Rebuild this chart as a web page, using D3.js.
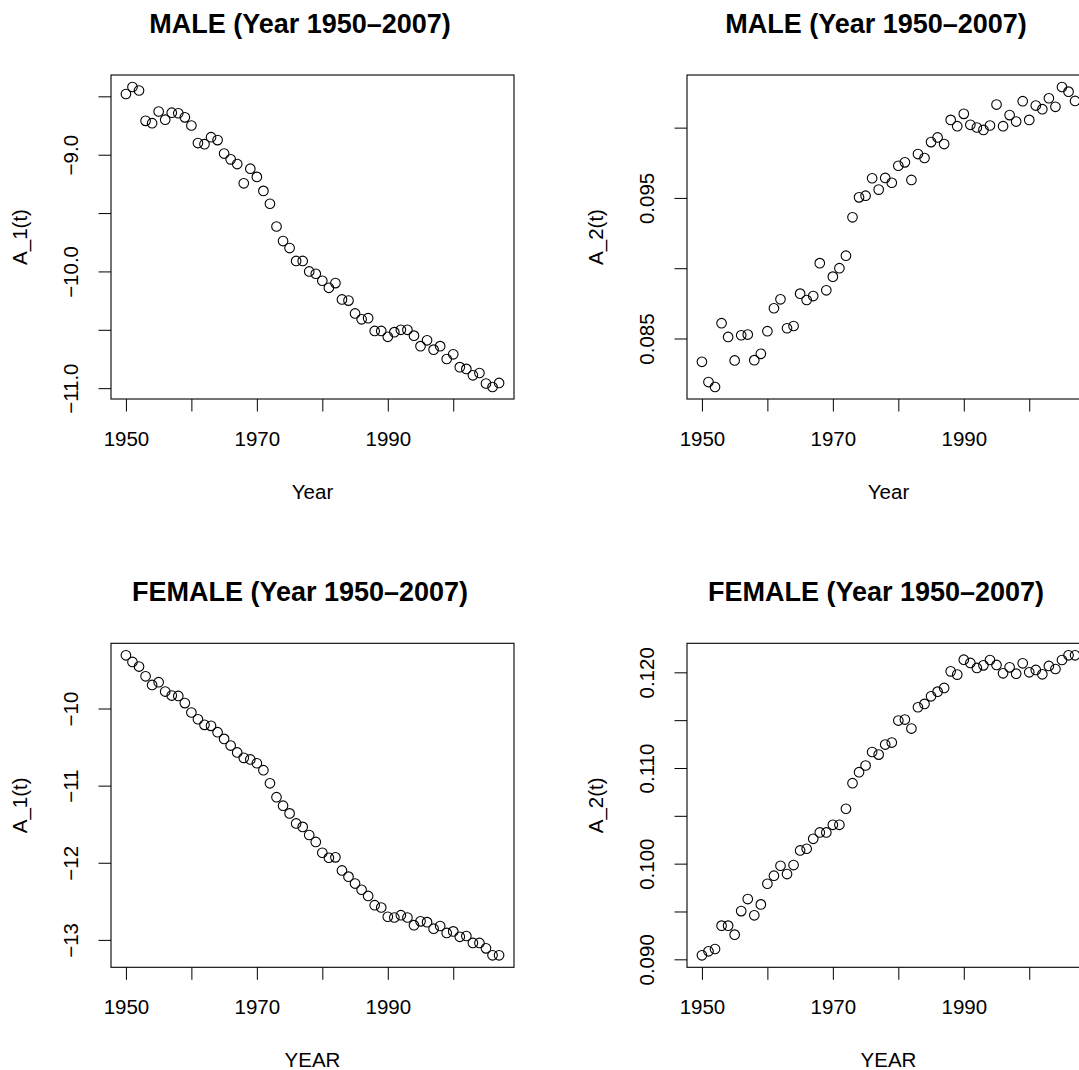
<!DOCTYPE html>
<html>
<head>
<meta charset="utf-8">
<script src="https://cdn.jsdelivr.net/npm/d3@7"></script>
<style>
  html, body { margin: 0; padding: 0; overflow: hidden; background: #fff; }
  svg { display: block; font-family: "Liberation Sans", Arial, Helvetica, sans-serif; }
</style>
</head>
<body>
<svg id="canvas" width="1152" height="1137"></svg>
<script>
// years 1950..2007
const years = d3.range(1950, 2008);

const maleA1 = [-8.48, -8.42, -8.45, -8.71, -8.73, -8.63, -8.70, -8.64, -8.645, -8.68,
  -8.75, -8.90, -8.91, -8.85, -8.875, -8.99, -9.04, -9.08, -9.245, -9.12,
  -9.19, -9.31, -9.42, -9.615, -9.74, -9.80, -9.91, -9.91, -10.00, -10.02,
  -10.08, -10.14, -10.10, -10.24, -10.25, -10.36, -10.41, -10.40, -10.51, -10.51,
  -10.56, -10.52, -10.50, -10.50, -10.55, -10.64, -10.59, -10.67, -10.64, -10.75,
  -10.71, -10.82, -10.835, -10.89, -10.87, -10.96, -10.99, -10.955];

const maleA2 = [0.08334, 0.0819, 0.08155, 0.08609, 0.08511, 0.08344, 0.08523, 0.08528, 0.08346, 0.08391,
  0.08552, 0.08715, 0.08779, 0.08573, 0.08589, 0.08819, 0.08774, 0.08802, 0.09036, 0.08843,
  0.0894, 0.0900, 0.09089, 0.09362, 0.09504, 0.09516, 0.0964, 0.09559, 0.09642, 0.09608,
  0.09729, 0.09753, 0.09628, 0.09812, 0.09784, 0.09897, 0.0993, 0.09883, 0.10055, 0.1001,
  0.10098, 0.1002, 0.10001, 0.09984, 0.10015, 0.10164, 0.1001, 0.10089, 0.10043, 0.10188,
  0.10055, 0.10157, 0.10131, 0.10209, 0.10148, 0.10289, 0.10256, 0.1019];

const femaleA1 = [-9.31, -9.396, -9.456, -9.582, -9.694, -9.659, -9.78, -9.832, -9.837, -9.93,
  -10.052, -10.139, -10.212, -10.225, -10.307, -10.394, -10.48, -10.57, -10.64, -10.66,
  -10.71, -10.80, -10.97, -11.15, -11.26, -11.36, -11.49, -11.535, -11.64, -11.73,
  -11.87, -11.935, -11.93, -12.10, -12.18, -12.27, -12.35, -12.43, -12.55, -12.58,
  -12.70, -12.71, -12.68, -12.71, -12.81, -12.76, -12.77, -12.855, -12.82, -12.91,
  -12.89, -12.96, -12.95, -13.04, -13.04, -13.11, -13.20, -13.20];

const femaleA2 = [0.09042, 0.09084, 0.09108, 0.09352, 0.09352, 0.09258, 0.09504, 0.0963, 0.0946, 0.09574,
  0.0979, 0.09874, 0.09978, 0.09891, 0.09985, 0.10138, 0.10156, 0.1026, 0.10326, 0.10326,
  0.10406, 0.10406, 0.10574, 0.10841, 0.10956, 0.11026, 0.11167, 0.1114, 0.11245, 0.11266,
  0.11496, 0.11506, 0.11412, 0.11635, 0.1167, 0.11749, 0.11798, 0.11837, 0.1201, 0.11976,
  0.12132, 0.12098, 0.12046, 0.12073, 0.12129, 0.12077, 0.1199, 0.12052, 0.11986, 0.12094,
  0.12, 0.12025, 0.11979, 0.12067, 0.12035, 0.12129, 0.12178, 0.12178];

// ticks and which of them carry a label
const yearTicks = [1950, 1960, 1970, 1980, 1990, 2000];
const yearLabels = [1950, 1970, 1990];
const maleA1Ticks = [-8.5, -9, -9.5, -10, -10.5, -11];
const maleA1Labels = [-9, -10, -11];
const maleA2Ticks = [0.085, 0.090, 0.095, 0.100];
const maleA2Labels = [0.085, 0.095];
const femaleA1Ticks = [-10, -11, -12, -13];
const femaleA1Labels = [-10, -11, -12, -13];
const femaleA2Ticks = [0.090, 0.095, 0.100, 0.105, 0.110, 0.115, 0.120];
const femaleA2Labels = [0.090, 0.100, 0.110, 0.120];

const canvas = d3.select('#canvas');

const cellW = 576, cellH = 568.3;
const box = {left: 111, right: 514, top: 75, bottom: 399};
const tickLen = 12.5;

// R style 4% padding of the data range
const padded = (ext) => {
    let d = (ext[1] - ext[0]) * 0.04;
    return [ext[0] - d, ext[1] + d];
}

const minus = (s) => s.replace('-', '\u2212');

let drawPanel = (col, row, opts) => {
    let g = canvas.append('g')
        .attr('transform', 'translate(' + (col * cellW) + ',' + (row * cellH) + ')');

    let x = d3.scaleLinear()
        .domain(padded(d3.extent(years)))
        .range([box.left, box.right]);
    let y = d3.scaleLinear()
        .domain(padded(d3.extent(opts.values)))
        .range([box.bottom, box.top]);

    // x axis
    let xAxis = g.append('g')
        .attr('transform', 'translate(0,' + box.bottom + ')')
        .call(d3.axisBottom(x)
            .tickValues(yearTicks)
            .tickSize(tickLen)
            .tickFormat((v) => yearLabels.includes(v) ? String(v) : ''));
    xAxis.select('.domain').remove();
    xAxis.selectAll('line').attr('stroke', '#000').attr('stroke-width', 1);
    xAxis.selectAll('text')
        .attr('y', 46.6)
        .attr('dy', 0)
        .attr('fill', '#000')
        .style('font-size', '20.5px');

    // y axis, labels parallel to axis
    let yAxis = g.append('g')
        .attr('transform', 'translate(' + box.left + ',0)')
        .call(d3.axisLeft(y)
            .tickValues(opts.ticks)
            .tickSize(tickLen)
            .tickFormat((v) => opts.labels.some((l) => Math.abs(l - v) < 1e-9) ? minus(opts.fmt(v)) : ''));
    yAxis.select('.domain').remove();
    yAxis.selectAll('line').attr('stroke', '#000').attr('stroke-width', 1);
    yAxis.selectAll('text')
        .attr('x', 0)
        .attr('y', -33)
        .attr('dy', 0)
        .attr('text-anchor', 'middle')
        .attr('transform', 'rotate(-90)')
        .attr('fill', '#000')
        .style('font-size', '20.5px');

    // plot box
    g.append('rect')
        .attr('x', box.left)
        .attr('y', box.top)
        .attr('width', box.right - box.left)
        .attr('height', box.bottom - box.top)
        .attr('fill', 'none')
        .attr('stroke', '#000')
        .attr('stroke-width', 1.1);

    // points
    g.selectAll('circle')
        .data(opts.values)
        .enter()
        .append('circle')
        .attr('cx', (v, i) => x(years[i]))
        .attr('cy', (v) => y(v))
        .attr('r', 4.8)
        .attr('fill', 'none')
        .attr('stroke', '#000')
        .attr('stroke-width', 1.1);

    // titles
    g.append('text')
        .text(opts.title)
        .attr('x', 300)
        .attr('y', 33)
        .attr('text-anchor', 'middle')
        .style('font-size', '27px')
        .style('font-weight', 'bold');

    g.append('text')
        .text(opts.xlab)
        .attr('x', (box.left + box.right) / 2)
        .attr('y', box.bottom + 100)
        .attr('text-anchor', 'middle')
        .style('font-size', '20.5px');

    g.append('text')
        .text(opts.ylab)
        .attr('transform', 'translate(' + (box.left - 84.3) + ',' + ((box.top + box.bottom) / 2) + ') rotate(-90)')
        .attr('text-anchor', 'middle')
        .style('font-size', '20.5px');
}

drawPanel(0, 0, {values: maleA1, ticks: maleA1Ticks, labels: maleA1Labels, fmt: d3.format('.1f'),
    title: 'MALE (Year 1950\u20132007)', xlab: 'Year', ylab: 'A_1(t)'});
drawPanel(1, 0, {values: maleA2, ticks: maleA2Ticks, labels: maleA2Labels, fmt: d3.format('.3f'),
    title: 'MALE (Year 1950\u20132007)', xlab: 'Year', ylab: 'A_2(t)'});
drawPanel(0, 1, {values: femaleA1, ticks: femaleA1Ticks, labels: femaleA1Labels, fmt: d3.format('d'),
    title: 'FEMALE (Year 1950\u20132007)', xlab: 'YEAR', ylab: 'A_1(t)'});
drawPanel(1, 1, {values: femaleA2, ticks: femaleA2Ticks, labels: femaleA2Labels, fmt: d3.format('.3f'),
    title: 'FEMALE (Year 1950\u20132007)', xlab: 'YEAR', ylab: 'A_2(t)'});
</script>
</body>
</html>
